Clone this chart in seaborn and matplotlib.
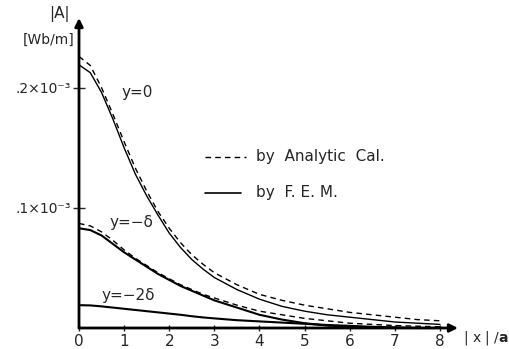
import numpy as np
import pandas as pd
import matplotlib
matplotlib.use("Agg")
import matplotlib.pyplot as plt
import seaborn as sns

# |x|/a positions
x = [0, 0.25, 0.5, 0.75, 1.0, 1.25, 1.5, 1.75, 2.0, 2.25, 2.5, 2.75, 3.0,
     3.5, 4.0, 4.5, 5.0, 5.5, 6.0, 6.5, 7.0, 7.5, 8.0]
# |A| values in units of 1e-3 Wb/m
ana_y0 = [0.226, 0.2185, 0.200, 0.178, 0.155, 0.133, 0.114, 0.097, 0.083, 0.071, 0.061, 0.053, 0.046,
          0.036, 0.028, 0.023, 0.019, 0.016, 0.013, 0.011, 0.009, 0.007, 0.006]
fem_y0 = [0.219, 0.2125, 0.196, 0.174, 0.150, 0.128, 0.110, 0.094, 0.079, 0.067, 0.057, 0.049, 0.042,
          0.032, 0.024, 0.018, 0.014, 0.011, 0.009, 0.007, 0.005, 0.004, 0.003]
ana_yd = [0.087, 0.085, 0.080, 0.073, 0.065, 0.058, 0.052, 0.046, 0.041, 0.036, 0.032, 0.028, 0.025,
          0.019, 0.014, 0.011, 0.008, 0.006, 0.004, 0.003, 0.002, 0.0015, 0.001]
fem_yd = [0.083, 0.0815, 0.077, 0.070, 0.063, 0.057, 0.051, 0.045, 0.040, 0.035, 0.031, 0.027, 0.023,
          0.017, 0.011, 0.007, 0.004, 0.002, 0.001, 0.0005, 0.0, 0.0, 0.0]
fem_y2d = [0.019, 0.0188, 0.018, 0.017, 0.016, 0.015, 0.014, 0.013, 0.012, 0.011, 0.0098, 0.0088, 0.008,
           0.0065, 0.0055, 0.0045, 0.0035, 0.0025, 0.0018, 0.001, 0.0005, 0.0, 0.0]

xticks = [0, 1, 2, 3, 4, 5, 6, 7, 8]
yticks = [0.1, 0.2]
ytick_labels = [".1×10⁻³", ".2×10⁻³"]

sns.set_style("white")
plt.rcParams['font.family'] = ['DejaVu Sans']

fig = plt.figure(figsize=(5.10, 3.49), dpi=100)
ax = fig.add_axes([79/510, 21/349, 379/510, 310/349])

dash = (4, 3)
series = [
    (ana_y0, '--', 1.0),
    (fem_y0, '-', 1.0),
    (ana_yd, '--', 1.0),
    (fem_yd, '-', 1.5),
    (fem_y2d, '-', 1.5),
]
for vals, ls, lw in series:
    df = pd.DataFrame({"x": x, "A": vals})
    sns.lineplot(data=df, x="x", y="A", ax=ax, color="black", linewidth=lw,
                 linestyle=ls, clip_on=False)
    if ls == '--':
        ax.lines[-1].set_dashes(dash)

ax.set_xlim(0, 8.4)
ax.set_ylim(0, 0.258)
for s in ax.spines.values():
    s.set_visible(False)

ax.annotate('', xy=(8.4, 0), xytext=(0, 0), xycoords='data',
            arrowprops=dict(arrowstyle='-|>', lw=2, color='black', mutation_scale=12,
                            shrinkA=0, shrinkB=0), annotation_clip=False)
ax.annotate('', xy=(0, 0.258), xytext=(0, 0), xycoords='data',
            arrowprops=dict(arrowstyle='-|>', lw=2, color='black', mutation_scale=12,
                            shrinkA=0, shrinkB=0), annotation_clip=False)

ax.set_xticks(xticks)
ax.set_xticklabels([str(t) for t in xticks])
ax.set_yticks(yticks)
ax.set_yticklabels(ytick_labels)
ax.tick_params(axis='x', direction='inout', length=5, width=1, pad=2, labelsize=11, bottom=True)
ax.tick_params(axis='y', direction='inout', length=8, width=1, pad=2, labelsize=10, left=True)
ax.set_xlabel("")
ax.set_ylabel("")

ax.text(8.5, -0.0085, "| x | /$\\mathbf{a}$", fontsize=10, ha='left', va='center')
fig.text(70/510, 1 - 14/349, "|A|", fontsize=11, ha='right', va='center')
fig.text(75/510, 1 - 40/349, "[Wb/m]", fontsize=10, ha='right', va='center')

ax.text(0.95, 0.196, "y=0", fontsize=11, ha='left', va='center')
ax.text(0.68, 0.088, "y=−δ", fontsize=11, ha='left', va='center')
ax.text(0.5, 0.027, "y=−2δ", fontsize=11, ha='left', va='center')

# legend
ax.plot([2.8, 3.7], [0.1425, 0.1425], color='black', lw=1, dashes=dash)
ax.text(3.92, 0.1425, "by  Analytic  Cal.", fontsize=11, ha='left', va='center')
ax.plot([2.8, 3.6], [0.1125, 0.1125], color='black', lw=1.2)
ax.text(3.92, 0.1125, "by  F. E. M.", fontsize=11, ha='left', va='center')

fig.savefig("out.png", dpi=100)
